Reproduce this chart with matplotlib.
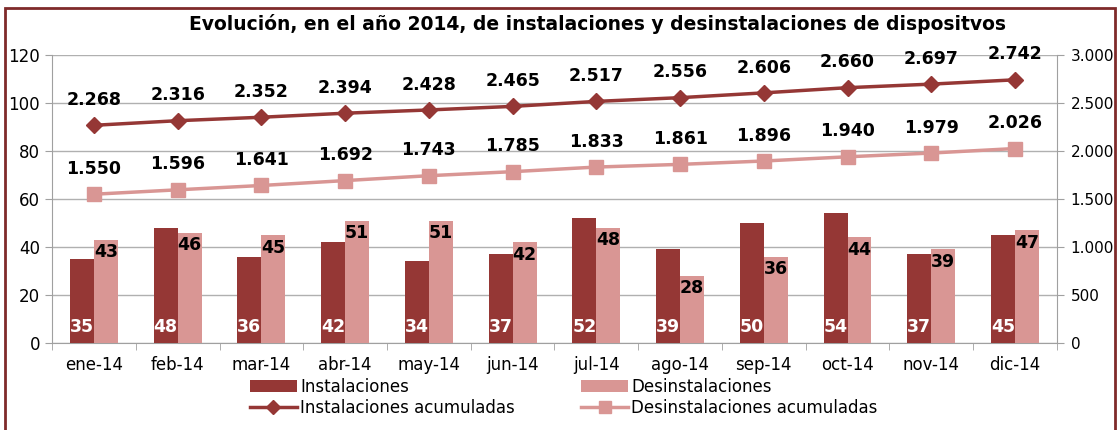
import numpy as np
import matplotlib
matplotlib.use("Agg")
import matplotlib.pyplot as plt
from matplotlib.patches import Rectangle
from matplotlib.lines import Line2D
from matplotlib.ticker import FuncFormatter

# Datos
meses = ["ene-14", "feb-14", "mar-14", "abr-14", "may-14", "jun-14",
         "jul-14", "ago-14", "sep-14", "oct-14", "nov-14", "dic-14"]
instalaciones = [35, 48, 36, 42, 34, 37, 52, 39, 50, 54, 37, 45]
desinstalaciones = [43, 46, 45, 51, 51, 42, 48, 28, 36, 44, 39, 47]
inst_acum = [2268, 2316, 2352, 2394, 2428, 2465, 2517, 2556, 2606, 2660, 2697, 2742]
desinst_acum = [1550, 1596, 1641, 1692, 1743, 1785, 1833, 1861, 1896, 1940, 1979, 2026]

c_dark = "#953735"
c_light = "#D99694"

plt.rcParams['font.family'] = ['DejaVu Sans']

fig = plt.figure(figsize=(11.19, 4.3), dpi=100)
ax = fig.add_axes([0.0465, 0.2023, 0.898, 0.6697])
ax2 = ax.twinx()

x = np.arange(len(meses))
w = 0.286

b1 = ax.bar(x - w / 2, instalaciones, w, color=c_dark, zorder=3)
b2 = ax.bar(x + w / 2, desinstalaciones, w, color=c_light, zorder=3)

for xi, v in zip(x, instalaciones):
    ax.text(xi - w / 2, 3, str(v), ha="center", va="bottom", color="white",
            fontsize=12.5, fontweight="bold", zorder=4)
for xi, v in zip(x, desinstalaciones):
    ax.text(xi + w / 2, v - 1.5, str(v), ha="center", va="top", color="black",
            fontsize=12.5, fontweight="bold", zorder=4)

ax.set_ylim(0, 120)
ax.set_yticks(range(0, 121, 20))
ax.set_xlim(-0.5, len(meses) - 0.5)
ax.set_xticks(x)
ax.set_xticklabels(meses, fontsize=12)
ax.set_xticks(np.arange(-0.5, len(meses), 1), minor=True)
ax.tick_params(axis="x", which="major", length=0, pad=9)
ax.tick_params(axis="x", which="minor", length=5, color="#A0A0A0")
ax.tick_params(axis="y", length=5, color="#A0A0A0", labelsize=12)
ax.grid(axis="y", color="#B0B0B0", linewidth=1, zorder=0)
for s in ["top", "right"]:
    ax.spines[s].set_visible(False)
for s in ["left", "bottom"]:
    ax.spines[s].set_color("#A0A0A0")

ax2.plot(x, inst_acum, color=c_dark, linewidth=2.5, marker="D", markersize=8, zorder=5)
ax2.plot(x, desinst_acum, color=c_light, linewidth=2.5, marker="s", markersize=10, zorder=5)
for xi, v in zip(x, inst_acum):
    ax2.text(xi, v + 170, f"{v:,}".replace(",", "."), ha="center", va="bottom",
             fontsize=12.5, fontweight="bold")
for xi, v in zip(x, desinst_acum):
    ax2.text(xi, v + 170, f"{v:,}".replace(",", "."), ha="center", va="bottom",
             fontsize=12.5, fontweight="bold")

ax2.set_ylim(0, 3000)
ax2.set_yticks(range(0, 3001, 500))
ax2.yaxis.set_major_formatter(FuncFormatter(lambda v, p: f"{int(v):,}".replace(",", ".")))
ax2.tick_params(axis="y", length=5, color="#A0A0A0", labelsize=11, pad=5)
for s in ["top", "left", "bottom"]:
    ax2.spines[s].set_visible(False)
ax2.spines["right"].set_color("#A0A0A0")
ax.set_zorder(1)
ax2.set_zorder(2)

fig.text(0.534, 0.945, "Evolución, en el año 2014, de instalaciones y desinstalaciones de dispositvos",
         ha="center", va="center", fontsize=13.5, fontweight="bold")

handles = [b1, Line2D([], [], color=c_dark, linewidth=2.5, marker="D", markersize=7),
           b2, Line2D([], [], color=c_light, linewidth=2.5, marker="s", markersize=8)]
labels = ["Instalaciones", "Instalaciones acumuladas",
          "Desinstalaciones", "Desinstalaciones acumuladas"]
fig.legend(handles, labels, ncol=2, loc="lower left", bbox_to_anchor=(0.21, -0.005),
           frameon=False, fontsize=12, handlelength=2.8, handletextpad=0.2,
           columnspacing=4.0, labelspacing=0.2)

fig.add_artist(Rectangle((5 / 1119, -0.1), 1110 / 1119, 1.1 - 8 / 430,
                         transform=fig.transFigure, fill=False,
                         edgecolor="#7F2A2A", linewidth=2))

plt.savefig("out.png", dpi=100)
